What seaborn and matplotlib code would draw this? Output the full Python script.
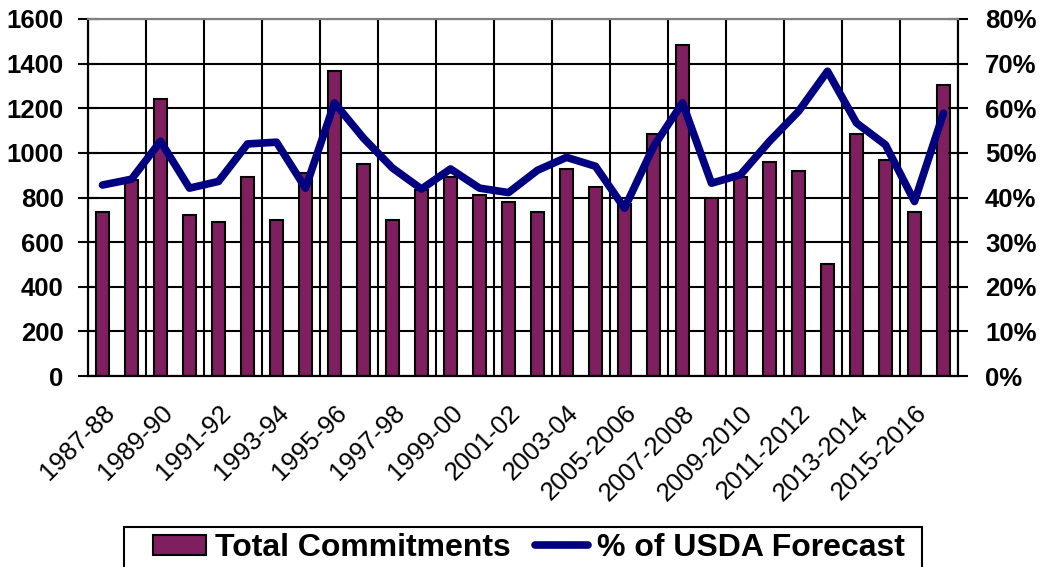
import numpy as np
import pandas as pd
import matplotlib
matplotlib.use("Agg")
import matplotlib.pyplot as plt
import matplotlib.transforms as mtransforms
import seaborn as sns
from matplotlib.lines import Line2D
from matplotlib.patches import Patch, Rectangle

seasons = ["1987-88", "1988-89", "1989-90", "1990-91", "1991-92", "1992-93",
           "1993-94", "1994-95", "1995-96", "1996-97", "1997-98", "1998-99",
           "1999-00", "2000-01", "2001-02", "2002-03", "2003-04", "2004-05",
           "2005-2006", "2006-2007", "2007-2008", "2008-2009", "2009-2010",
           "2010-2011", "2011-2012", "2012-2013", "2013-2014", "2014-2015",
           "2015-2016", "2016-2017"]
commitments = [734, 880, 1243, 722, 688, 894, 697, 909, 1368, 948,
               697, 834, 894, 813, 779, 734, 929, 849, 770, 1083,
               1485, 797, 892, 957, 921, 501, 1083, 966, 734, 1305]
pct_forecast = [42.8, 44.1, 52.6, 42.1, 43.6, 52.0, 52.4, 42.1, 61.2, 53.3,
                46.6, 41.9, 46.4, 42.1, 41.1, 46.1, 49.0, 47.0, 37.6, 51.4,
                61.2, 43.2, 45.1, 52.6, 59.3, 68.3, 56.7, 51.8, 39.1, 58.9]
left_ticks = list(range(0, 1601, 200))
right_ticks = list(range(0, 81, 10))
tick_labels = seasons[::2]

bar_color = "#7F1F5F"
line_color = "#000080"

sns.set_style("white")
plt.rcParams["font.family"] = ["Liberation Sans", "DejaVu Sans"]
plt.rcParams["text.color"] = "black"
plt.rcParams["xtick.color"] = "black"
plt.rcParams["ytick.color"] = "black"
plt.rcParams["axes.labelcolor"] = "black"

df = pd.DataFrame({"season": seasons, "commitments": commitments, "pct": pct_forecast})

W, H = 1042, 567
fig = plt.figure(figsize=(W / 100, H / 100), dpi=100)
ax = fig.add_axes([88 / W, (H - 376) / H, (958 - 88) / W, (376 - 19) / H])

sns.barplot(data=df, x="season", y="commitments", color=bar_color, width=0.42,
            edgecolor="black", linewidth=1.5, saturation=1, ax=ax, zorder=2)

ax2 = ax.twinx()
sns.lineplot(x=np.arange(len(seasons)), y=df["pct"].values, ax=ax2, color=line_color,
             linewidth=5.5, sort=False, solid_capstyle="round", solid_joinstyle="round")

n = len(seasons)
ax.set_xlim(-0.5, n - 0.5)
ax.set_ylim(0, 1600)
ax2.set_ylim(0, 80)

ax.set_yticks(left_ticks)
ax.set_yticklabels([str(v) for v in left_ticks], fontsize=18.5, fontweight="bold")
ax2.set_yticks(right_ticks)
ax2.set_yticklabels([f"{v}%" for v in right_ticks], fontsize=18.5, fontweight="bold")

ax.set_xticks(np.arange(0, n, 2))
ax.set_xticklabels(tick_labels, rotation=45, ha="right", va="top",
                   rotation_mode="anchor", fontsize=18.5)
ax.set_xticks(np.arange(-0.5, n, 2), minor=True)
ax.tick_params(axis="x", which="major", length=0, pad=18)
ax.tick_params(axis="x", which="minor", direction="out", length=9, width=1.5, color="black")
ax.tick_params(axis="y", direction="inout", length=15, width=1.5, pad=10, color="black")
ax2.tick_params(axis="y", direction="inout", length=15, width=1.5, pad=12, color="black")

ax.set_axisbelow(True)
ax.yaxis.grid(True, color="black", linewidth=1.5)
ax.xaxis.grid(True, which="minor", color="black", linewidth=1.5)
ax.xaxis.grid(False, which="major")
ax2.grid(False)

ax.set_xlabel("")
ax.set_ylabel("")
ax2.set_xlabel("")
ax2.set_ylabel("")

for a in (ax, ax2):
    for s in a.spines.values():
        s.set_color("black")
        s.set_linewidth(1.5)
    a.spines["top"].set_color("#808080")

handles = [Patch(facecolor=bar_color, edgecolor="black", linewidth=1.5, label="Total Commitments"),
           Line2D([0], [0], color=line_color, linewidth=5.5, solid_capstyle="round",
                  label="% of USDA Forecast")]
leg = fig.legend(handles=handles, loc="upper left", bbox_to_anchor=(153 / W, (H - 533) / H),
                 ncol=2, frameon=False,
                 prop={"weight": "bold", "size": 23}, handlelength=1.65, handleheight=0.58,
                 handletextpad=0.3, columnspacing=0.75, borderpad=0, borderaxespad=0)
frame = Rectangle((124 / W, -0.05), (922 - 124) / W, (H - 527) / H + 0.05,
                  transform=fig.transFigure, fill=False, edgecolor="black",
                  linewidth=1.5, clip_on=False)
fig.add_artist(frame)

fig.savefig("out.png", dpi=100)
